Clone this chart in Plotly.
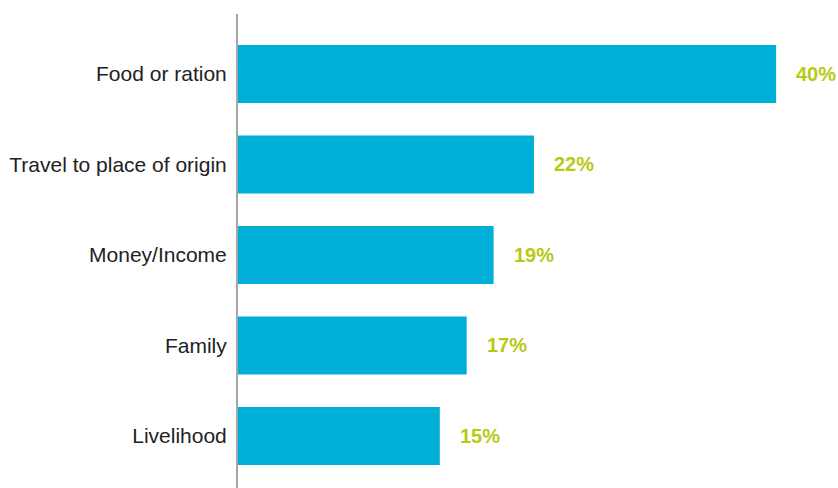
import plotly.graph_objects as go

# Reasons reported, share of respondents (%)
categories = ["Food or ration", "Travel to place of origin", "Money/Income", "Family", "Livelihood"]
values = [40, 22, 19, 17, 15]
value_labels = ["40%", "22%", "19%", "17%", "15%"]

BAR_COLOR = "#00afd8"
LABEL_COLOR = "#b7c912"

fig = go.Figure(
    go.Bar(
        x=values,
        y=categories,
        orientation="h",
        marker=dict(color=BAR_COLOR, line=dict(width=0)),
        width=0.64,
        hoverinfo="skip",
    )
)

# Percent labels placed to the right of each bar end
for cat, val, lab in zip(categories, values, value_labels):
    fig.add_annotation(
        x=val, y=cat, text=f"<b>{lab}</b>", showarrow=False,
        xanchor="left", yanchor="middle", xshift=18,
        font=dict(family="Liberation Sans, Arial, sans-serif", size=20, color=LABEL_COLOR),
    )

fig.update_layout(
    width=838, height=488,
    margin=dict(l=238, r=0, t=14, b=0),
    paper_bgcolor="white", plot_bgcolor="white",
    showlegend=False,
    font=dict(family="Liberation Sans, Arial, sans-serif", size=21, color="#222222"),
    xaxis=dict(range=[0, 44.6], visible=False, fixedrange=True),
    yaxis=dict(
        type="category",
        categoryorder="array", categoryarray=categories,
        range=[4.575, -0.663],
        showline=True, linecolor="#a6a6a6", linewidth=2,
        showgrid=False, zeroline=False,
        ticks="outside", ticklen=5, tickcolor="rgba(0,0,0,0)",
        tickfont=dict(size=21, color="#222222"),
        fixedrange=True,
    ),
)

fig.write_html("out.html")
